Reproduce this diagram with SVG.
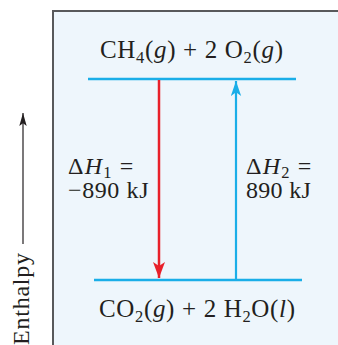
<svg xmlns="http://www.w3.org/2000/svg" width="338" height="345" viewBox="0 0 338 345">
<style>
text{font-family:"Liberation Serif","Times New Roman",serif;font-size:24px;fill:#231f20}
.big{font-size:25px}
.sub{font-size:16.5px}
.i{font-style:italic}
.lvl{stroke:#1aaee8;stroke-width:2.5;fill:none}
</style>
<defs>
<marker id="headRed" viewBox="0 0 16 12" refX="16" refY="6" markerWidth="16" markerHeight="12" markerUnits="userSpaceOnUse" orient="auto">
<path d="M0,0 L16,6 L0,12 L4,6 Z" fill="#e8202a"/>
</marker>
<marker id="headBlue" viewBox="0 0 16 11" refX="16" refY="5.5" markerWidth="15" markerHeight="11" markerUnits="userSpaceOnUse" orient="auto">
<path d="M0,0 L16,5.5 L0,11 L4,5.5 Z" fill="#1aaee8"/>
</marker>
<marker id="headBlack" viewBox="0 0 14 8" refX="14" refY="4" markerWidth="13" markerHeight="8" markerUnits="userSpaceOnUse" orient="auto">
<path d="M0,0 L14,4 L0,8 L3,4 Z" fill="#231f20"/>
</marker>
</defs>
<rect x="53" y="11" width="320" height="360" fill="#eef6fc" stroke="#58595b" stroke-width="2"/>
<g id="axis">
<line x1="23" y1="244" x2="23" y2="113" stroke="#231f20" stroke-width="1.2" marker-end="url(#headBlack)"/>
<text transform="translate(28.5,253) rotate(-90)" text-anchor="end" textLength="92" lengthAdjust="spacing">Enthalpy</text>
</g>
<g id="reactants">
<line class="lvl" x1="88" y1="79" x2="296" y2="79"/>
<text class="big" x="100" y="58" textLength="183" lengthAdjust="spacing">CH<tspan class="sub" dy="5">4</tspan><tspan dy="-5">(</tspan><tspan class="i">g</tspan>) + 2 O<tspan class="sub" dy="5">2</tspan><tspan dy="-5">(</tspan><tspan class="i">g</tspan>)</text>
</g>
<g id="products">
<line class="lvl" x1="94" y1="280" x2="302" y2="280"/>
<text class="big" x="99" y="317" textLength="196" lengthAdjust="spacing">CO<tspan class="sub" dy="5">2</tspan><tspan dy="-5">(</tspan><tspan class="i">g</tspan>) + 2 H<tspan class="sub" dy="5">2</tspan><tspan dy="-5">O(</tspan><tspan class="i">l</tspan>)</text>
</g>
<g id="connectors">
<line x1="159" y1="80" x2="159" y2="278" stroke="#e8202a" stroke-width="2.5" marker-end="url(#headRed)"/>
<line x1="236" y1="279" x2="236" y2="81" stroke="#1aaee8" stroke-width="2.2" marker-end="url(#headBlue)"/>
</g>
<g id="label-dh1">
<text x="68" y="174" letter-spacing="1.2">Δ<tspan class="i">H</tspan><tspan class="sub" dy="4">1</tspan><tspan dy="-4"> =</tspan><tspan x="68" y="198" letter-spacing="0.6">−890 kJ</tspan></text>
</g>
<g id="label-dh2">
<text x="246" y="174" letter-spacing="1.2">Δ<tspan class="i">H</tspan><tspan class="sub" dy="4">2</tspan><tspan dy="-4"> =</tspan><tspan x="246" y="198" letter-spacing="0.3">890 kJ</tspan></text>
</g>
</svg>
